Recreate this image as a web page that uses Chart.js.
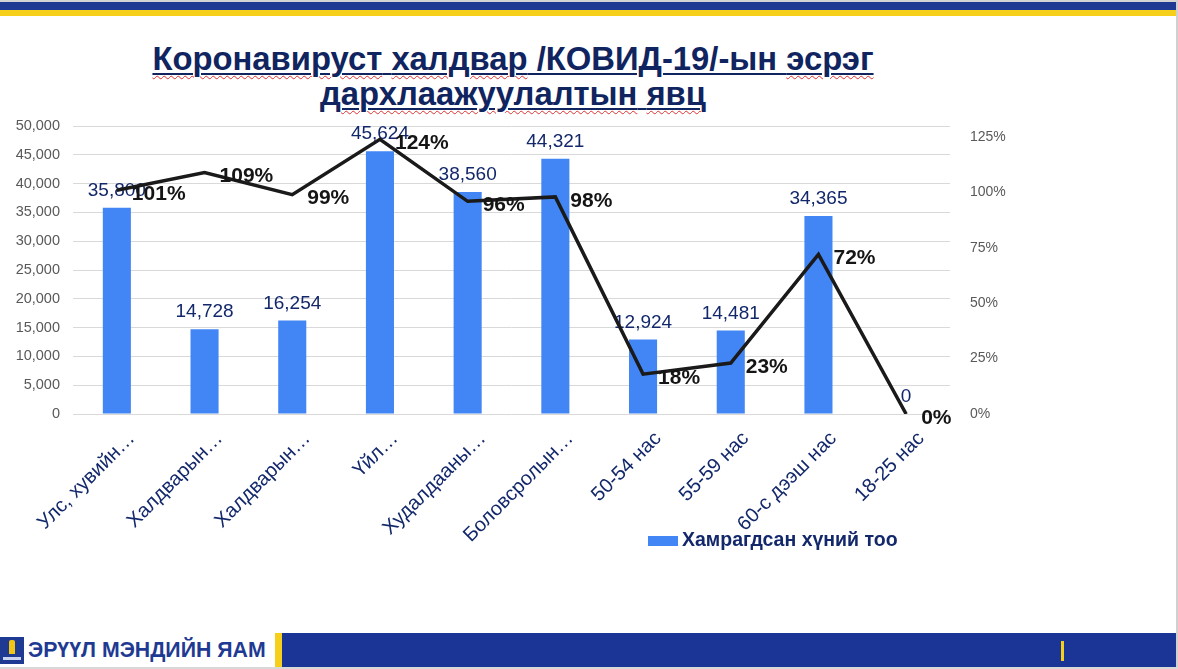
<!DOCTYPE html>
<html>
<head>
<meta charset="utf-8">
<script src="https://cdn.jsdelivr.net/npm/chart.js@4.4.1/dist/chart.umd.min.js"></script>
<style>
  html, body { margin: 0; padding: 0; background: #fff; }
  #page { position: relative; width: 1178px; height: 669px; overflow: hidden; font-family: "Liberation Sans", Arial, sans-serif; }
  .stripe { position: absolute; left: 0; width: 1178px; }
  #title { position: absolute; left: 0; top: 41px; width: 1026px; text-align: center; font-weight: bold; font-size: 32.8px; line-height: 35px; color: #10245f; }
  #title span { text-decoration: underline solid #10245f 2px; text-underline-offset: 3px; }
  #title span i { font-style: normal; text-decoration: underline wavy #e03030 1px; text-underline-offset: 5px; }
  #chartBox { position: absolute; left: 0; top: 100px; }
  #footer { position: absolute; left: 0; top: 633px; width: 1176px; height: 34px; }
  #logo { position: absolute; left: 0; top: 4px; width: 24px; height: 27px; background: #1f3a93; }
  #logo .fig { position: absolute; left: 9px; top: 3px; width: 6px; height: 14px; background: #f2c514; border-radius: 2px 2px 0 0; }
  #logo .txt { position: absolute; left: 3px; top: 20px; width: 18px; height: 3px; background: #c9d2ee; }
  #footer .name { position: absolute; left: 28px; top: 3px; font-weight: bold; font-size: 21.3px; color: #1f3a93; line-height: 28px; }
  #footer .ybar { position: absolute; left: 275px; top: 0; width: 7px; height: 34px; background: #f5cf1a; }
  #footer .bband { position: absolute; left: 282px; top: 0; width: 894px; height: 34px; background: #1a3596; }
  #footer .tick { position: absolute; left: 1061px; top: 8px; width: 3px; height: 20px; background: #f5cf1a; }
</style>
</head>
<body>
<div id="page">
  <div class="stripe" style="top:0;height:2px;background:#d4d4d4"></div>
  <div class="stripe" style="top:2px;height:8px;background:#1f3a93"></div>
  <div class="stripe" style="top:10px;height:6px;background:#f5cf1a"></div>
  <div style="position:absolute;right:0;top:0;width:2px;height:669px;background:#d0d0d0"></div>
  <div style="position:absolute;left:0;top:667px;width:1178px;height:2px;background:#d8d8d8"></div>

  <div id="title">
    <span><i>Коронавируст</i> <i>халдвар</i> /КОВИД-19/-ын <i>эсрэг</i></span><br>
    <span><i>дархлаажуулалтын</i> <i>явц</i></span>
  </div>

  <div id="chartBox"><canvas id="vaccChart" width="1178" height="460"></canvas></div>

  <div id="footer">
    <div id="logo"><div class="fig"></div><div class="txt"></div></div>
    <div class="name">ЭРҮҮЛ МЭНДИЙН ЯАМ</div>
    <div class="ybar"></div>
    <div class="bband"></div>
    <div class="tick"></div>
  </div>
</div>

<script>
// Категори, хамрагдсан хүний тоо, хувь
const categories = ["Улс, хувийн…", "Халдварын…", "Халдварын…", "Үйл…", "Худалдааны…", "Боловсролын…", "50-54 нас", "55-59 нас", "60-с дээш нас", "18-25 нас"]
const coveredPeople = [35800, 14728, 16254, 45624, 38560, 44321, 12924, 14481, 34365, 0]
const coverageRate = [1.01, 1.09, 0.99, 1.24, 0.96, 0.98, 0.18, 0.23, 0.72, 0]
const countTicks = [0, 5000, 10000, 15000, 20000, 25000, 30000, 35000, 40000, 45000, 50000]
const rateTicks = [0, 0.25, 0.5, 0.75, 1, 1.25]

const navy = "#13286b"
const barBlue = "#4285f4"
const FONT = '"Liberation Sans", Arial, sans-serif'

// Тоон шошго (датасет бүрийн дараа зурна)
const valueLabels = {
  id: "valueLabels",
  afterDatasetDraw(chart, args) {
    const ctx = chart.ctx
    const ds = chart.data.datasets[args.index]
    ctx.save()
    args.meta.data.forEach((el, i) => {
      const v = ds.data[i]
      if (ds.type === "bar") {
        ctx.font = "19px " + FONT
        ctx.fillStyle = navy
        ctx.textAlign = "center"
        ctx.textBaseline = "middle"
        ctx.fillText(v.toLocaleString("en-US"), el.x, el.y - 17)
      } else {
        ctx.font = "bold 21px " + FONT
        ctx.fillStyle = "#151515"
        ctx.textAlign = "left"
        ctx.textBaseline = "middle"
        ctx.fillText(Math.round(v * 100) + "%", el.x + 15, el.y + 4)
      }
    })
    ctx.restore()
  },
}

// Тайлбар (зөвхөн баганын датасет)
const barLegend = {
  id: "barLegend",
  afterDraw(chart) {
    const ctx = chart.ctx
    const ca = chart.chartArea
    const ds = chart.data.datasets[0]
    const x = ca.left + 575
    const y = ca.bottom + 127
    ctx.save()
    ctx.fillStyle = ds.backgroundColor
    ctx.fillRect(x, y - 5, 30, 10)
    ctx.font = "bold 19.5px " + FONT
    ctx.fillStyle = navy
    ctx.textAlign = "left"
    ctx.textBaseline = "middle"
    ctx.fillText(ds.label, x + 34, y)
    ctx.restore()
  },
}

new Chart(document.getElementById("vaccChart"), {
  data: {
    labels: categories,
    datasets: [
      {
        type: "bar",
        label: "Хамрагдсан хүний тоо",
        data: coveredPeople,
        backgroundColor: barBlue,
        categoryPercentage: 1,
        barPercentage: 0.32,
        yAxisID: "y",
        order: 2,
      },
      {
        type: "line",
        label: "Хувь",
        data: coverageRate,
        borderColor: "#1a1a1a",
        borderWidth: 3.5,
        pointRadius: 0,
        tension: 0,
        yAxisID: "y2",
        order: 1,
      },
    ],
  },
  options: {
    responsive: false,
    animation: false,
    layout: { padding: { top: 26, left: 0, right: 0, bottom: 0 } },
    plugins: {
      legend: { display: false },
      tooltip: { enabled: false },
    },
    scales: {
      x: {
        grid: { display: false },
        border: { display: false },
        ticks: {
          color: navy,
          font: { family: FONT, size: 20 },
          minRotation: 45,
          maxRotation: 45,
          autoSkip: false,
          labelOffset: 15,
          padding: 5,
        },
        afterFit: (s) => { s.height = 146 },
      },
      y: {
        position: "left",
        min: 0,
        max: 50000,
        grid: { color: "#d9d9d9", lineWidth: 1, drawTicks: false },
        border: { display: false },
        afterBuildTicks: (s) => { s.ticks = countTicks.map((v) => ({ value: v })) },
        ticks: {
          color: "#595959",
          font: { family: FONT, size: 14.5 },
          padding: 13,
          callback: (v) => v.toLocaleString("en-US"),
        },
        afterFit: (s) => { s.width = 73 },
      },
      y2: {
        position: "right",
        min: 0,
        max: 1.3,
        grid: { display: false },
        border: { display: false },
        afterBuildTicks: (s) => { s.ticks = rateTicks.map((v) => ({ value: v })) },
        ticks: {
          color: "#595959",
          font: { family: FONT, size: 14 },
          padding: 12,
          callback: (v) => Math.round(v * 100) + "%",
        },
        afterFit: (s) => { s.width = 228 },
      },
    },
  },
  plugins: [valueLabels, barLegend],
})
</script>
</body>
</html>
